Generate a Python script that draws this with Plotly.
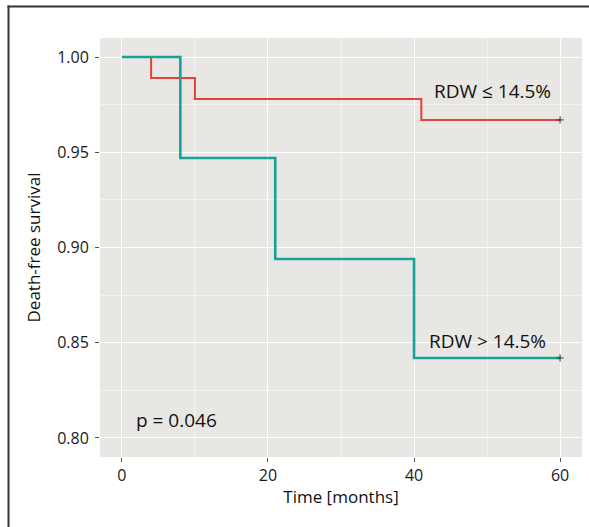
import plotly.graph_objects as go

# Data
time_low = [0, 4, 10, 41, 60]
surv_low = [1.0, 0.989, 0.978, 0.967, 0.967]
time_high = [0, 8, 21, 40, 60]
surv_high = [1.0, 0.947, 0.894, 0.842, 0.842]
label_low = "RDW ≤ 14.5%"
label_high = "RDW > 14.5%"
p_text = "p = 0.046"
x_ticks = [0, 20, 40, 60]
y_ticks = [0.80, 0.85, 0.90, 0.95, 1.00]
y_tick_text = ["0.80", "0.85", "0.90", "0.95", "1.00"]

RED = "#E5403A"
TEAL = "#17A398"
FONT = "Open Sans"

fig = go.Figure()
fig.add_trace(go.Scatter(x=time_low, y=surv_low, mode="lines", line_shape="hv",
                         line=dict(color=RED, width=2), showlegend=False, hoverinfo="skip"))
fig.add_trace(go.Scatter(x=time_high, y=surv_high, mode="lines", line_shape="hv",
                         line=dict(color=TEAL, width=2.6), showlegend=False, hoverinfo="skip"))
fig.add_trace(go.Scatter(x=[time_low[-1], time_high[-1]], y=[surv_low[-1], surv_high[-1]],
                         mode="markers",
                         marker=dict(symbol="cross-thin", size=5, line=dict(color="#333333", width=1)),
                         showlegend=False, hoverinfo="skip"))

fig.add_annotation(x=50.8, y=0.982, text=label_low, showarrow=False,
                   font=dict(family=FONT, size=19, color="#111111"))
fig.add_annotation(x=50.1, y=0.851, text=label_high, showarrow=False,
                   font=dict(family=FONT, size=19, color="#111111"))
fig.add_annotation(x=7.5, y=0.8095, text=p_text, showarrow=False,
                   font=dict(family=FONT, size=19, color="#111111"))

W, H = 589, 527
L, R, T, B = 100, 7, 38, 70
pw, ph = W - L - R, H - T - B

def px(x):
    return (x - L) / pw

def py(y):
    return 1 - (y - T) / ph

# outer border (top and left visible)
fig.add_shape(type="line", xref="paper", yref="paper", x0=px(7.5), x1=px(W + 5), y0=py(6.5), y1=py(6.5),
              line=dict(color="#333333", width=2))
fig.add_shape(type="line", xref="paper", yref="paper", x0=px(8.5), x1=px(8.5), y0=py(5.5), y1=py(H + 5),
              line=dict(color="#333333", width=2))

fig.update_layout(
    width=W, height=H,
    margin=dict(l=L, r=R, t=T, b=B),
    paper_bgcolor="white",
    plot_bgcolor="#E9E7E3",
    font=dict(family=FONT, size=16, color="#1a1a1a"),
    xaxis=dict(
        range=[-3, 63], tickvals=x_ticks, ticks="outside", ticklen=4, tickcolor="#555555",
        tickfont=dict(size=16, color="#1a1a1a"),
        showgrid=True, gridcolor="white", gridwidth=1.3, zeroline=False, showline=False,
        minor=dict(dtick=10, tick0=0, showgrid=True, gridcolor="#F4F3F0", gridwidth=0.7),
        title=dict(text="Time [months]", font=dict(size=17, color="#111111"), standoff=5),
    ),
    yaxis=dict(
        range=[0.79, 1.01], tickvals=y_ticks, ticktext=y_tick_text, ticks="outside", ticklen=4,
        tickcolor="#555555", tickfont=dict(size=16, color="#1a1a1a"), ticklabelstandoff=3,
        showgrid=True, gridcolor="white", gridwidth=1.3, zeroline=False, showline=False,
        minor=dict(dtick=0.025, tick0=0.8, showgrid=True, gridcolor="#F4F3F0", gridwidth=0.7),
        title=dict(text="Death-free survival", font=dict(size=17, color="#111111"), standoff=12),
    ),
)

fig.write_html("out.html", config={"displayModeBar": False},
               post_script="document.body.style.margin='0';")
